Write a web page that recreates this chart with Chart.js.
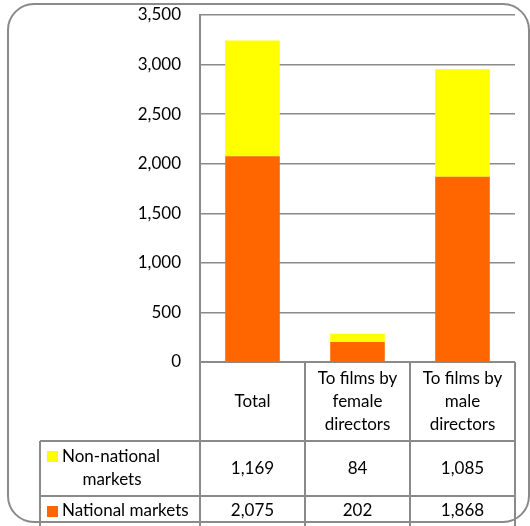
<!DOCTYPE html>
<html>
<head>
<meta charset="utf-8">
<script src="https://cdn.jsdelivr.net/npm/chart.js@4.4.1/dist/chart.umd.min.js"></script>
<style>
  html, body { margin: 0; padding: 0; background: #fff; }
  #wrap { width: 530px; height: 526px; position: relative; }
</style>
</head>
<body>
<div id="wrap"><canvas id="chart" width="530" height="526"></canvas></div>
<script>
// categories (header lines of the data table)
const categories = [
  ["Total"],
  ["To films by", "female", "directors"],
  ["To films by", "male", "directors"],
];
const seriesNames = ["Non-national markets", "National markets"];
const nonNational = [1169, 84, 1085];
const national = [2075, 202, 1868];
const yTicks = [0, 500, 1000, 1500, 2000, 2500, 3000, 3500];

const lineColor = "#8a8a8a";
const fontFamily = "Lato, 'Open Sans', sans-serif";
const fontSize = 17;

function fmt(v) {
  return v.toLocaleString("en-US");
}

const tablePlugin = {
  id: "dataTable",
  beforeDraw(chart) {
    const c = chart.ctx;
    c.save();
    // rounded frame
    c.strokeStyle = lineColor;
    c.lineWidth = 2;
    const x0 = 8, y0 = 4, x1 = 529, y1 = 522, r = 26;
    c.beginPath();
    c.moveTo(x0 + r, y0);
    c.lineTo(x1 - r, y0);
    c.arcTo(x1, y0, x1, y0 + r, r);
    c.lineTo(x1, y1 - r);
    c.arcTo(x1, y1, x1 - r, y1, r);
    c.lineTo(x0 + r, y1);
    c.arcTo(x0, y1, x0, y1 - r, r);
    c.lineTo(x0, y0 + r);
    c.arcTo(x0, y0, x0 + r, y0, r);
    c.stroke();
    c.restore();
  },
  afterDraw(chart) {
    const c = chart.ctx;
    const xs = chart.scales.x;
    const area = chart.chartArea;
    const colW = (area.right - area.left) / categories.length;
    const top = area.bottom;
    const row1 = top + 79;
    const row2 = row1 + 55;
    const row3 = row2 + 55;
    const legLeft = 40;

    c.save();
    c.strokeStyle = lineColor;
    c.lineWidth = 2;
    c.beginPath();
    // vertical lines of category columns
    for (let i = 0; i <= categories.length; i++) {
      const x = area.left + i * colW;
      c.moveTo(x, top);
      c.lineTo(x, row3);
    }
    c.moveTo(legLeft, row1);
    c.lineTo(legLeft, row3);
    // horizontal rows
    [row1, row2].forEach(function (y) {
      c.moveTo(legLeft, y);
      c.lineTo(area.right, y);
    });
    c.moveTo(area.left, top);
    c.lineTo(area.right, top);
    c.stroke();

    c.fillStyle = "#000";
    c.font = fontSize + "px " + fontFamily;
    c.textAlign = "center";
    c.textBaseline = "middle";

    // header labels
    const lh = 23;
    categories.forEach(function (lines, i) {
      const cx = xs.getPixelForValue(i);
      const cy = (top + row1) / 2;
      lines.forEach(function (t, k) {
        c.fillText(t, cx, cy + (k - (lines.length - 1) / 2) * lh);
      });
    });

    // values
    const rows = [nonNational, national];
    const rowMid = [(row1 + row2) / 2, row2 + 15];
    rows.forEach(function (vals, r) {
      vals.forEach(function (v, i) {
        c.fillText(fmt(v), xs.getPixelForValue(i), rowMid[r]);
      });
    });

    // legend cells
    const colors = [chart.data.datasets[1].backgroundColor, chart.data.datasets[0].backgroundColor];
    c.fillStyle = colors[0];
    c.fillRect(47, row1 + 10, 11, 11);
    c.fillStyle = colors[1];
    c.fillRect(47, row2 + 10, 11, 11);
    c.fillStyle = "#000";
    c.textAlign = "left";
    c.fillText("Non-national", 62, row1 + 16);
    c.textAlign = "center";
    c.fillText("markets", 112, row1 + 39);
    c.textAlign = "left";
    c.fillText(seriesNames[1], 62, row2 + 15);
    c.restore();
  },
};

new Chart(document.getElementById("chart"), {
  type: "bar",
  data: {
    labels: categories.map(function (l) { return l.join(" "); }),
    datasets: [
      {
        label: seriesNames[1],
        data: national,
        backgroundColor: "#FF6600",
        borderWidth: 0,
      },
      {
        label: seriesNames[0],
        data: nonNational,
        backgroundColor: "#FFFF00",
        borderWidth: 0,
      },
    ],
  },
  options: {
    responsive: false,
    animation: false,
    layout: { padding: { top: 15, right: 15, bottom: 164, left: 0 } },
    plugins: {
      legend: { display: false },
      tooltip: { enabled: false },
    },
    datasets: {
      bar: { categoryPercentage: 1, barPercentage: 0.52 },
    },
    scales: {
      x: {
        stacked: true,
        grid: { display: false, drawTicks: false },
        border: { display: false },
        ticks: { display: false },
      },
      y: {
        stacked: true,
        min: 0,
        max: 3500,
        afterFit: function (axis) { axis.width = 200; },
        afterBuildTicks: function (axis) {
          axis.ticks = yTicks.map(function (v) { return { value: v }; });
        },
        grid: {
          color: lineColor,
          lineWidth: 1.5,
          drawTicks: true,
          tickLength: 16,
          tickColor: "rgba(0,0,0,0)",
        },
        border: { display: true, color: lineColor, width: 2 },
        ticks: {
          padding: 3,
          color: "#000",
          font: { size: fontSize, family: fontFamily },
          callback: function (v) { return fmt(v); },
        },
      },
    },
  },
  plugins: [tablePlugin],
});
</script>
</body>
</html>
